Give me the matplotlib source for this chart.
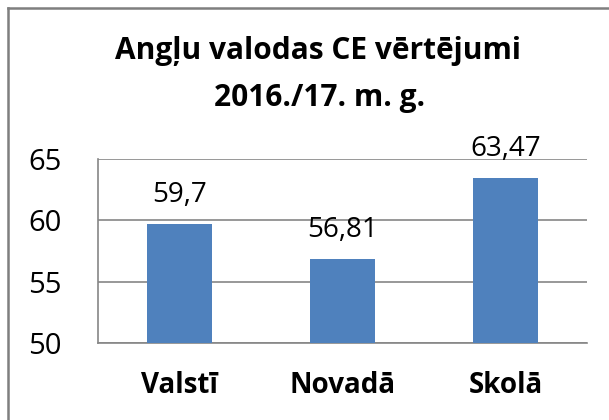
import matplotlib
matplotlib.use("Agg")
import matplotlib.pyplot as plt
from matplotlib.lines import Line2D

categories = ["Valstī", "Novadā", "Skolā"]
values = [59.7, 56.81, 63.47]
labels = ["59,7", "56,81", "63,47"]
yticks = [50, 55, 60, 65]

plt.rcParams['font.family'] = ['Open Sans', 'DejaVu Sans']

W, H = 609, 420
fig = plt.figure(figsize=(W/100, H/100), dpi=100)
fig.patch.set_facecolor("white")
# outer chart border (only left and top visible in the crop)
fig.lines.append(Line2D([8/W, 8/W], [0, 1 - 8/H], transform=fig.transFigure,
                        color="#7f7f7f", linewidth=1.8))
fig.lines.append(Line2D([8/W, 1], [1 - 8/H, 1 - 8/H], transform=fig.transFigure,
                        color="#7f7f7f", linewidth=1.8))

ax = fig.add_axes([98/W, 1 - 343/H, 489/W, 184/H])
x = range(len(categories))
ax.bar(x, values, width=0.4, color="#4F81BD", zorder=3)
ax.set_ylim(50, 65)
ax.set_xlim(-0.5, 2.5)
ax.set_yticks(yticks)
ax.set_yticklabels([str(t) for t in yticks], fontsize=21)
ax.set_xticks(list(x))
ax.set_xticklabels(categories, fontsize=20, fontweight="bold")
ax.tick_params(axis="both", length=0)
ax.tick_params(axis="y", pad=26)
ax.tick_params(axis="x", pad=20)
for s in ["top", "right"]:
    ax.spines[s].set_visible(False)
for s in ["bottom", "left"]:
    ax.spines[s].set_color("#868686")
    ax.spines[s].set_linewidth(1.2)
ax.yaxis.grid(True, color="#868686", linewidth=1.2, zorder=0)
ax.set_axisbelow(True)
for xi, v, lab in zip(x, values, labels):
    ax.annotate(lab, (xi, v), xytext=(0, 16), textcoords="offset points",
                ha="center", va="baseline", fontsize=20, clip_on=False)

fig.text(318/W, 1 - 59/H, "Angļu valodas CE vērtējumi", ha="center", va="baseline",
         fontsize=21.5, fontweight="bold")
fig.text(320/W, 1 - 106/H, "2016./17. m. g.", ha="center", va="baseline",
         fontsize=21.5, fontweight="bold")

fig.savefig("out.png", dpi=100, facecolor="white")
